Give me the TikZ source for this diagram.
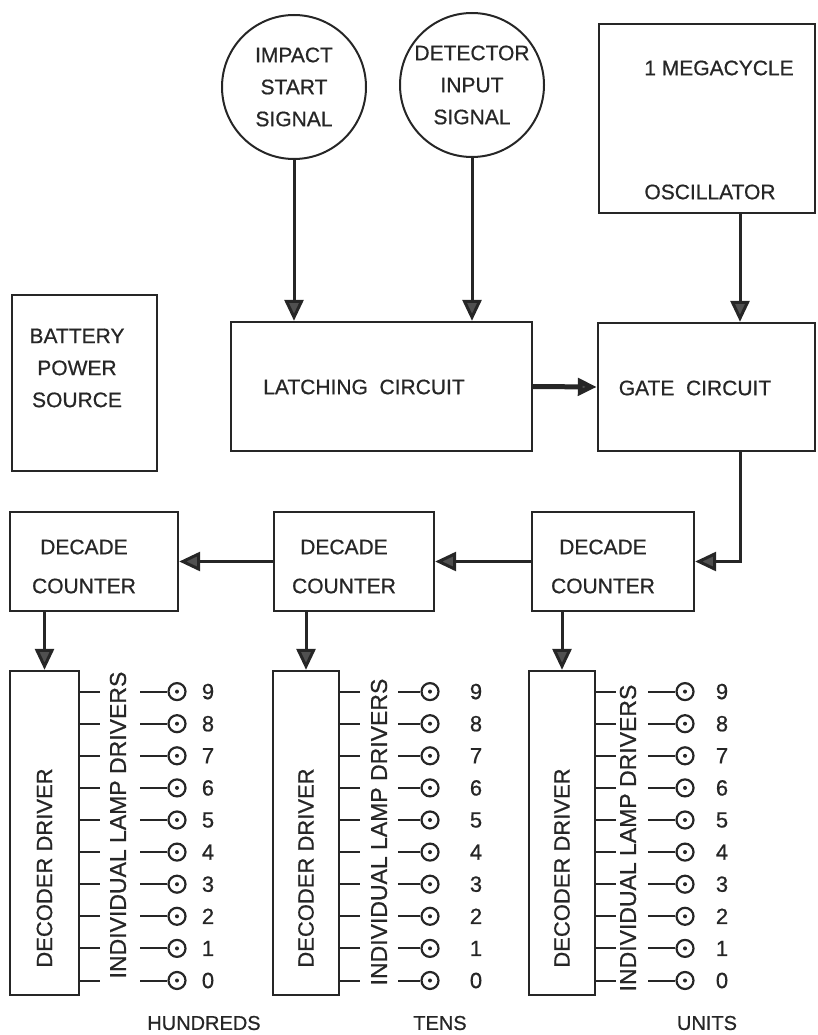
\documentclass[tikz,border=0pt]{standalone}
\usepackage{fontspec}
\setmainfont{Liberation Sans}[FakeBold=0.7]
\usetikzlibrary{arrows.meta,positioning,calc}
\definecolor{ink}{HTML}{262626}
\definecolor{tipc}{HTML}{505050}
\newcommand{\blk}{\fontsize{21}{32}\selectfont}
\tikzset{
  box/.style  ={draw=ink, line width=2.4pt, inner sep=0pt, text=ink, font=\blk, align=center},
  sig/.style  ={box, circle, line width=2pt, minimum size=144pt},
  lbl/.style  ={text=ink, font=\blk, align=center, inner sep=0pt},
  vlbl/.style ={lbl, rotate=90, font=\fontsize{23}{26}\selectfont},
  flow/.style ={-{Triangle[width=19pt,length=21pt,fill=tipc]}, line width=3pt, draw=ink},
  stub/.style ={draw=ink, line width=2pt},
  lamp/.style ={circle, draw=ink, line width=2.2pt, minimum size=17pt, inner sep=0pt},
}
\begin{document}
\begin{tikzpicture}[x=1pt,y=-1pt]
  \useasboundingbox (0,0) rectangle (817,1035);
  % --- signal sources and clock ---
  \node[sig] (imp) at (294,87) {\raisebox{-3pt}{\parbox{110pt}{\centering IMPACT\\START\\SIGNAL}}};
  \node[sig] (det) at (472,85) {DETECTOR\\INPUT\\SIGNAL};
  \node[box, minimum width=216pt, minimum height=189pt] (osc) at (707,118.5) {};
  \node[lbl] (osct) at (719,68) {1 MEGACYCLE};
  \node[lbl] (oscb) at (710,192) {OSCILLATOR};
  % --- control row ---
  \node[box, minimum width=145pt, minimum height=176pt] (bat) at (84.5,383) {};
  \node[lbl] (batt) at (77,368) {BATTERY\\POWER\\SOURCE};
  \node[box, minimum width=301pt, minimum height=129pt] (latch) at (381.5,386.5) {};
  \node[lbl] (latcht) at (364,387) {LATCHING\ \ CIRCUIT};
  \node[box, minimum width=217pt, minimum height=128pt] (gate) at (706.5,387) {};
  \node[lbl] (gatet) at (695,388) {GATE\ \ CIRCUIT};
  \coordinate (tap) at (740,0);
  % --- counters ---
  \node[box, minimum width=168pt, minimum height=99pt] (cnth) at (94,561.5) {};
  \node[box, minimum width=160pt, minimum height=99pt] (cntt) at (354,561.5) {};
  \node[box, minimum width=162pt, minimum height=99pt] (cntu) at (613,561.5) {};
  \foreach \c in {cnth,cntt,cntu}
    \node[lbl, font=\fontsize{21}{39}\selectfont] (\c t) at ($(\c.center)+(-10,5)$) {DECADE\\COUNTER};
  % --- decoder drivers ---
  \node[box, minimum width=69pt, minimum height=324pt] (dech) at (44.5,833) {};
  \node[box, minimum width=66pt, minimum height=324pt] (dect) at (306,833) {};
  \node[box, minimum width=66pt, minimum height=324pt] (decu) at (562,833) {};
  \foreach \d in {dech,dect,decu}
    \node[vlbl, font=\fontsize{22}{26}\selectfont] (\d t) at ($(\d.center)+(0,35)$) {DECODER\ DRIVER};
  % --- connectors ---
  \draw[flow] (imp.south) -- (imp.south |- latch.north);
  \draw[flow] (det.south) -- (det.south |- latch.north);
  \draw[flow] (osc.south -| tap) -- (gate.north -| tap);
  \draw[flow, line width=5pt, -{Triangle[width=17pt,length=19pt,fill=tipc]}] (latch.east) -- (gate.west);
  \draw[flow] (gate.south -| tap) |- (cntu.east);
  \draw[flow] (cntu.west) -- (cntt.east);
  \draw[flow] (cntt.west) -- (cnth.east);
  \foreach \d/\c in {dech/cnth,dect/cntt,decu/cntu}
    \draw[flow] (\d.north |- \c.south) -- (\d.north);
  % --- lamp outputs ---
  \foreach \d/\tx/\ty/\lx/\cx/\nx in {dech/118/825/140/177/208, dect/379/832/398/430/476, decu/628/838/648/685/722}{
    \node[vlbl] (\d v) at (\tx,\ty) {INDIVIDUAL\ LAMP\ DRIVERS};
    \foreach \k in {0,...,9}{
      \pgfmathsetmacro{\yy}{980.5-32.1*\k}
      \coordinate (s\d\k) at (\lx,\yy);
      \node[lamp] (l\d\k) at (\cx,\yy) {};
      \fill[ink] (l\d\k) circle (2pt);
      \draw[stub] (\d.east |- s\d\k) -- ++(20,0);
      \draw[stub] (s\d\k) -- (l\d\k);
      \node[lbl, font=\fontsize{22}{26}\selectfont] (n\d\k) at (\nx,\yy) {\k};
    }
  }
  % --- decade labels ---
  \node[lbl, font=\fontsize{20}{24}\selectfont] (hund) at (204,1023) {HUNDREDS};
  \node[lbl, font=\fontsize{20}{24}\selectfont] (tens) at (440,1023) {TENS};
  \node[lbl, font=\fontsize{20}{24}\selectfont] (unit) at (707,1023) {UNITS};
\end{tikzpicture}
\end{document}
